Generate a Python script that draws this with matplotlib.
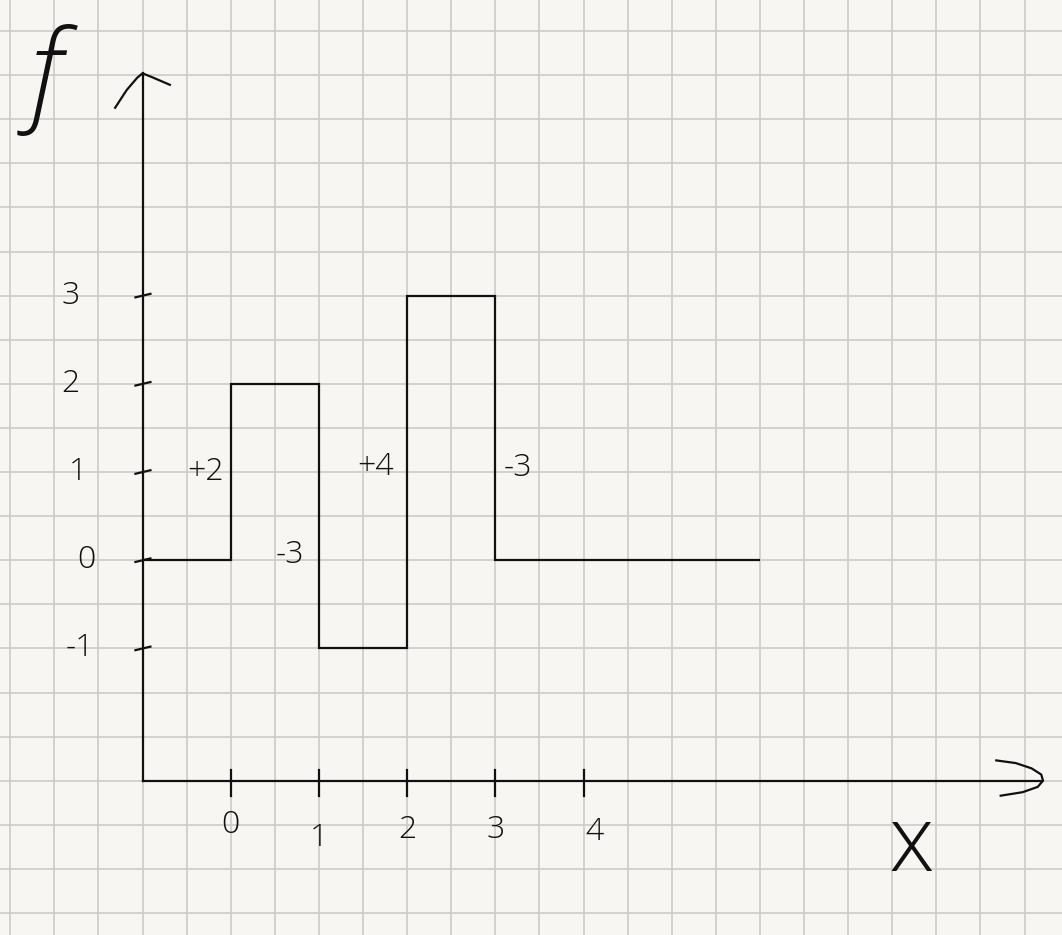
import numpy as np
import matplotlib
matplotlib.use("Agg")
import matplotlib.pyplot as plt

# ---------- data ----------
edges = [-1, 0, 1, 2, 3, 6]          # step breakpoints
levels = [0, 2, -1, 3, 0]            # f on each interval
jumps = ["+2", "-3", "+4", "-3"]     # jump at edges 0..3
x_ticks = [0, 1, 2, 3, 4]
y_ticks = [-1, 0, 1, 2, 3]
y_tick_labels = ["-1", "0", "1", "2", "3"]

# ---------- look ----------
INK = "#111111"
PAPER = "#f8f6f2"
GRID = "#cfcbc6"
FONT = ["Open Sans", "DejaVu Sans"]

W, H = 1062, 935
PX = 88.2                       # pixels per unit
X0, Y0 = 230.7, 560.2           # pixel of origin

fig = plt.figure(figsize=(W / 100, H / 100), dpi=100, facecolor=PAPER)
ax = fig.add_axes([0, 0, 1, 1])
ax.set_facecolor(PAPER)
ax.set_xlim(-X0 / PX, (W - X0) / PX)
ax.set_ylim((Y0 - H) / PX, Y0 / PX)
ax.axis("off")

# grid paper, half-unit cells
for gx in np.arange(-3, 10, 0.5):
    ax.axvline(gx, color=GRID, lw=1.2, zorder=0)
for gy in np.arange(-5, 7, 0.5):
    ax.axhline(gy, color=GRID, lw=1.2, zorder=0)

# axes
ax_y = -2.5
ax.plot([-1, -1], [ax_y, 5.52], color=INK, lw=1.6)
ax.plot([-1, 9.2], [ax_y, ax_y], color=INK, lw=1.6)
# hand-drawn arrow heads
ax.plot([-1.31, -1.18, -1.06, -1.0, -0.9, -0.69],
        [5.13, 5.33, 5.47, 5.52, 5.48, 5.39], color=INK, lw=1.6)
ax.plot([8.68, 8.90, 9.08, 9.19, 9.21, 9.15, 8.98, 8.73],
        [-2.27, -2.30, -2.36, -2.43, -2.50, -2.57, -2.63, -2.67],
        color=INK, lw=1.6)

# the step function
ax.stairs(levels, edges, baseline=None, color=INK, lw=1.6)

# tick marks
for yv in y_ticks:
    ax.plot([-1.08, -0.91], [yv - 0.02, yv + 0.02], color=INK, lw=1.6)
for xv in x_ticks:
    ax.plot([xv, xv], [ax_y + 0.12, ax_y - 0.17], color=INK, lw=1.6)

txt = dict(color=INK, ha="center", va="center", family=FONT,
           fontweight="light")

# tick labels
y_lab_x = [-1.71, -1.64, -1.73, -1.82, -1.82]
for yv, lab, lx in zip(y_ticks, y_tick_labels, y_lab_x):
    ax.text(lx, yv, lab, fontsize=23, **txt)
x_lab_dy = [-3.0, -3.15, -3.06, -3.06, -3.08]
x_lab_dx = [0.0, 0.0, 0.0, 0.0, 0.13]
for xv, dx, ly in zip(x_ticks, x_lab_dx, x_lab_dy):
    ax.text(xv + dx, ly, str(xv), fontsize=23, **txt)

# jump annotations
jump_pos = [(-0.29, 1.0), (0.67, 0.06), (1.64, 1.06), (3.26, 1.05)]
for lab, (jx, jy) in zip(jumps, jump_pos):
    ax.text(jx, jy, lab, fontsize=23, **txt)

# axis names
ax.text(-2.10, 5.45, "f", fontsize=80, fontstyle="italic", **txt)
ax.text(7.72, -3.25, "x", fontsize=66, **txt)

fig.savefig("out.png", dpi=100, facecolor=PAPER)
plt.close(fig)
